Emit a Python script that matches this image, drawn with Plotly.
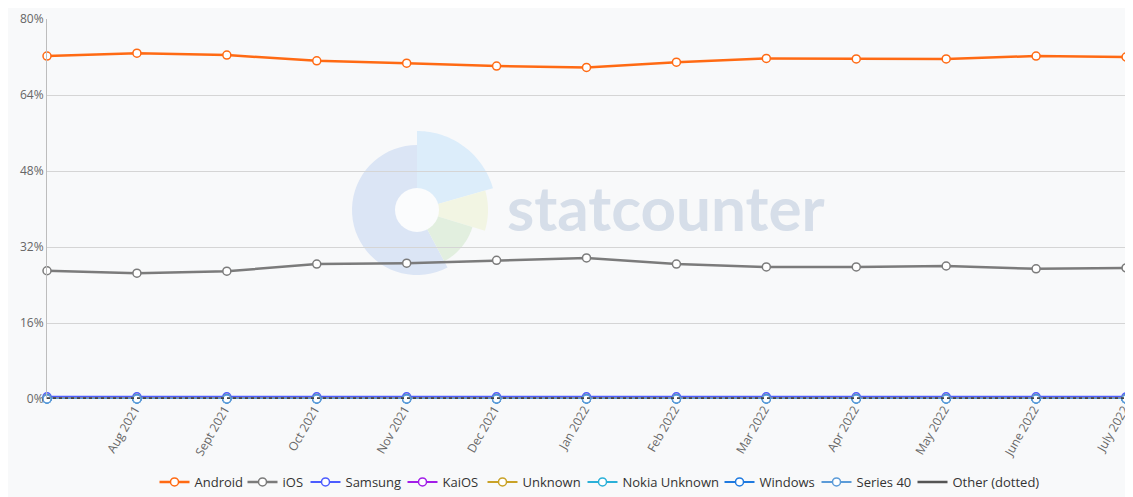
import math
import plotly.graph_objects as go

months = ["July 2021", "Aug 2021", "Sept 2021", "Oct 2021", "Nov 2021", "Dec 2021",
          "Jan 2022", "Feb 2022", "Mar 2022", "Apr 2022", "May 2022", "June 2022", "July 2022"]

android = [72.2, 72.8, 72.4, 71.2, 70.7, 70.1, 69.8, 70.9, 71.7, 71.6, 71.6, 72.2, 72.0]
ios = [27.0, 26.5, 26.9, 28.4, 28.6, 29.2, 29.7, 28.4, 27.8, 27.8, 28.0, 27.4, 27.6]
samsung = [0.45, 0.45, 0.45, 0.45, 0.45, 0.45, 0.45, 0.45, 0.45, 0.45, 0.45, 0.45, 0.45]
kaios = [0.08, 0.08, 0.08, 0.08, 0.08, 0.08, 0.08, 0.08, 0.08, 0.08, 0.08, 0.08, 0.08]
unknown = [0.1, 0.1, 0.1, 0.1, 0.1, 0.1, 0.1, 0.1, 0.1, 0.1, 0.1, 0.1, 0.1]
nokia = [0.03, 0.03, 0.03, 0.03, 0.03, 0.03, 0.03, 0.03, 0.03, 0.03, 0.03, 0.03, 0.03]
windows = [0.01, 0.01, 0.01, 0.01, 0.01, 0.01, 0.01, 0.01, 0.01, 0.01, 0.01, 0.01, 0.01]
series40 = [0.01, 0.01, 0.01, 0.01, 0.01, 0.01, 0.01, 0.01, 0.01, 0.01, 0.01, 0.01, 0.01]
other = [0.15, 0.15, 0.15, 0.15, 0.15, 0.15, 0.15, 0.15, 0.15, 0.15, 0.15, 0.15, 0.15]

# name, values, colour, line width, legend entry width (px)
series = [
    ("Android", android, "#ff6a13", 2.5, 43),
    ("iOS", ios, "#7b7b7b", 2.5, 18),
    ("Samsung", samsung, "#4c5cff", 2, 52),
    ("KaiOS", kaios, "#a21ee8", 2, 35),
    ("Unknown", unknown, "#c9a227", 2, 55),
    ("Nokia Unknown", nokia, "#2ab0d8", 2, 92),
    ("Windows", windows, "#1f7ae0", 2, 52),
    ("Series 40", series40, "#5b9bd8", 2, 51),
]

# page offset of the figure (default body margin of the html page)
OX, OY = 8, 8
W, H = 1133 - OX, 497 - OY
# plot area in page pixels: x 47..1126, y 19..399
L, T = 47 - OX, 19 - OY
R = W - (1126 - OX)
B = H - (399 - OY)
PW, PH = W - L - R, H - T - B


def px(x):
    return (x - OX - L) / PW


def py(y):
    return (H - B - (y - OY)) / PH


fig = go.Figure()
for name, vals, color, lw, lgw in series:
    fig.add_trace(go.Scatter(
        x=months, y=vals, name=name, mode="lines+markers",
        line=dict(color=color, width=lw),
        marker=dict(symbol="circle", size=8, color="white", line=dict(color=color, width=1.5)),
        cliponaxis=False, legendwidth=lgw,
    ))

fig.add_trace(go.Scatter(
    x=months, y=other, name="Other (dotted)", mode="lines",
    line=dict(color="#444444", width=2, dash="dot"), showlegend=False, cliponaxis=False,
))
fig.add_trace(go.Scatter(
    x=[None], y=[None], name="Other (dotted)", mode="lines",
    line=dict(color="#555555", width=2.5), legendwidth=88,
))

shapes = []


def sector(cx, cy, r, a0, a1, color):
    pts = []
    n = 40
    for i in range(n + 1):
        a = math.radians(a0 + (a1 - a0) * i / n)
        pts.append((cx + r * math.cos(a), cy - r * math.sin(a)))
    d = "M %f,%f " % (px(cx), py(cy))
    d += " ".join("L %f,%f" % (px(x), py(y)) for x, y in pts) + " Z"
    return dict(type="path", xref="paper", yref="paper", path=d, fillcolor=color,
                line=dict(width=0), layer="below")


cx, cy = 417, 210
shapes.append(sector(cx, cy, 65, 90, 298, "#dbe5f5"))
shapes.append(sector(cx, cy, 79, 16, 90, "#dcedfa"))
shapes.append(sector(cx, cy, 71, -17, 16, "#f2f5e3"))
shapes.append(sector(cx, cy, 58, -62, -17, "#e2efdf"))
shapes.append(dict(type="circle", xref="paper", yref="paper", x0=px(cx - 22), x1=px(cx + 22),
                   y0=py(cy + 22), y1=py(cy - 22), fillcolor="#fbfcfd", line=dict(width=0), layer="below"))

fig.update_layout(
    width=W, height=H,
    margin=dict(l=L, r=R, t=T, b=B, autoexpand=False),
    paper_bgcolor="#f8f9fa", plot_bgcolor="#f8f9fa",
    font=dict(family="Open Sans", color="#333333", size=13),
    shapes=shapes,
    annotations=[dict(text="<b>statcounter</b>", xref="paper", yref="paper",
                      x=px(666), y=py(207), xanchor="center", yanchor="middle", showarrow=False,
                      font=dict(family="Lato", size=62, color="#d6dee9"))],
    showlegend=True,
    legend=dict(orientation="h", x=px(600), xanchor="center", y=py(482), yanchor="middle",
                font=dict(size=13, color="#333333"), bgcolor="rgba(0,0,0,0)", itemwidth=30),
    xaxis=dict(type="category", range=[0, len(months) - 1], tickvals=months[1:], ticktext=months[1:],
               tickangle=-60, tickfont=dict(size=12, color="#666666"), showgrid=False,
               showline=False, zeroline=False, ticks="", automargin=False, ticklabelshift=-2),
    yaxis=dict(range=[0, 80], dtick=16, ticksuffix="%", tickfont=dict(size=12, color="#666666"),
               showgrid=True, gridcolor="#d5d5d5", gridwidth=1, zeroline=False,
               showline=True, linecolor="#bdbdbd", linewidth=1, mirror=True, ticks="",
               automargin=False),
)

fig.write_html("out.html")
